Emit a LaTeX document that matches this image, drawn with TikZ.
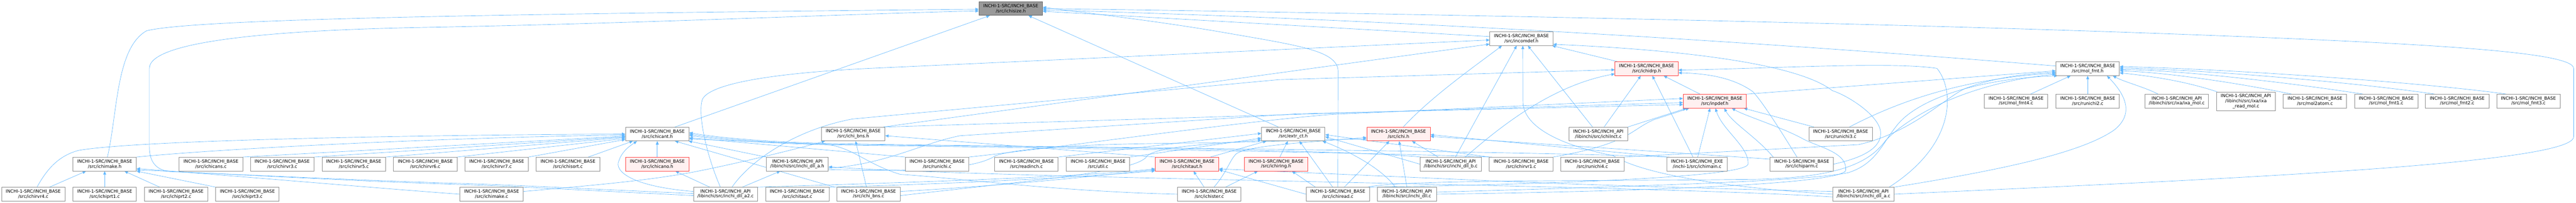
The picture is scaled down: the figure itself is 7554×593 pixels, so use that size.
\documentclass[tikz,border=0pt]{standalone}
\usepackage{fontspec}
\setmainfont{DejaVu Sans}
\usetikzlibrary{arrows.meta,calc}
\definecolor{edgeblue}{RGB}{99,184,255}
\definecolor{nodegray}{RGB}{140,140,140}
\definecolor{nodered}{RGB}{255,64,64}
\definecolor{nodepink}{RGB}{255,240,240}
\definecolor{rootfill}{RGB}{153,153,153}
\definecolor{rootdraw}{RGB}{102,102,102}
\newcommand{\nfnt}{\fontsize{13}{14.5}\selectfont}
\newcommand{\nbase}[1]{INCHI-1-SRC/INCHI\_BASE\\/src/#1}
\newcommand{\napi}[1]{INCHI-1-SRC/INCHI\_API\\/libinchi/src/#1}
\pgfdeclarelayer{bg}
\pgfsetlayers{bg,main}
\tikzset{
  nb/.style={draw=nodegray, line width=1.3pt, fill=white, minimum width=186pt, minimum height=40pt, inner sep=0pt, align=center, font=\nfnt},
  nred/.style={nb, draw=nodered, fill=nodepink},
  nroot/.style={nb, draw=rootdraw, fill=rootfill},
  e/.style={draw=edgeblue, line width=1pt, -{Triangle[length=10pt,width=8.5pt]}},
}
\begin{document}
\begin{tikzpicture}[x=1pt,y=-1pt]
\useasboundingbox (0,0) rectangle (7554,593);
% row 0
\node[nroot] (S) at (2964,25) {\nbase{ichisize.h}};
% row 1
\node[nb, minimum width=185pt] (CD) at (4461.5,113) {\nbase{incomdef.h}};
% row 2
\node[nred, minimum width=185pt] (DRP) at (4828.5,201) {\nbase{ichidrp.h}};
\node[nb] (MFH) at (6122,201) {\nbase{mol\_fmt.h}};
% row 3
\node[nred, minimum width=185pt] (INP) at (5028.5,296) {\nbase{inpdef.h}};
\node[nb] (MF4) at (5912,296) {\nbase{mol\_fmt4.c}};
\node[nb] (RU2) at (6122,296) {\nbase{runichi2.c}};
\node[nb] (IXM) at (6383,296) {\napi{ixa/ixa\_mol.c}};
\node[nb, minimum width=172pt, minimum height=55pt] (IXR) at (6586,296.5) {INCHI-1-SRC/INCHI\_API\\/libinchi/src/ixa/ixa\\\_read\_mol.c};
\node[nb] (M2A) at (6788.5,296) {\nbase{mol2atom.c}};
\node[nb] (MF1) at (6997.5,296) {\nbase{mol\_fmt1.c}};
\node[nb] (MF2) at (7205.5,296) {\nbase{mol\_fmt2.c}};
\node[nb] (MF3) at (7414.5,296) {\nbase{mol\_fmt3.c}};
% row 4
\node[nb] (CT) at (1927.5,392) {\nbase{ichicant.h}};
\node[nb] (BNSH) at (2502,392) {\nbase{ichi\_bns.h}};
\node[nb] (EXT) at (3792.5,392) {\nbase{extr\_ct.h}};
\node[nred] (ICHI) at (4101,392) {\nbase{ichi.h}};
\node[nb, minimum width=172pt] (LNCT) at (4687,392) {\napi{ichilnct.c}};
\node[nb] (RU3) at (5397.5,392) {\nbase{runichi3.c}};
% row 5
\node[nb] (MKH) at (307,480) {\nbase{ichimake.h}};
\node[nb] (CANS) at (618.5,480) {\nbase{ichicans.c}};
\node[nb] (RV3) at (827.5,480) {\nbase{ichirvr3.c}};
\node[nb] (RV5) at (1037.5,480) {\nbase{ichirvr5.c}};
\node[nb] (RV6) at (1247,480) {\nbase{ichirvr6.c}};
\node[nb] (RV7) at (1456.5,480) {\nbase{ichirvr7.c}};
\node[nb] (SORT) at (1665.5,480) {\nbase{ichisort.c}};
\node[nred] (CANO) at (1927.5,480) {\nbase{ichicano.h}};
\node[nb, minimum width=182pt] (DAH) at (2338,480) {\napi{inchi\_dll\_a.h}};
\node[nb] (RUN) at (2748,480) {\nbase{runichi.c}};
\node[nb] (RDI) at (3010,480) {\nbase{readinch.c}};
\node[nb] (UTIL) at (3220,480) {\nbase{util.c}};
\node[nred] (TAUH) at (3481,480) {\nbase{ichitaut.h}};
\node[nred] (RING) at (3742,480) {\nbase{ichiring.h}};
\node[nb, minimum width=180pt] (DLLB) at (4254,480) {\napi{inchi\_dll\_b.c}};
\node[nb] (RV1) at (4460.5,480) {\nbase{ichirvr1.c}};
\node[nb] (RU4) at (4669.5,480) {\nbase{runichi4.c}};
\node[nb, minimum width=177pt] (MAIN) at (4976.5,480) {INCHI-1-SRC/INCHI\_EXE\\/inchi-1/src/ichimain.c};
\node[nb] (PARM) at (5283.5,480) {\nbase{ichiparm.c}};
% row 6
\node[nb] (RV4) at (97.5,568) {\nbase{ichirvr4.c}};
\node[nb] (PRT1) at (307,568) {\nbase{ichiprt1.c}};
\node[nb] (PRT2) at (516.5,568) {\nbase{ichiprt2.c}};
\node[nb] (PRT3) at (725.5,568) {\nbase{ichiprt3.c}};
\node[nb] (MKC) at (1441.5,568) {\nbase{ichimake.c}};
\node[nb, minimum width=187pt] (DA2) at (2127.5,568) {\napi{inchi\_dll\_a2.c}};
\node[nb] (TAUC) at (2338,568) {\nbase{ichitaut.c}};
\node[nb] (BNSC) at (2547,568) {\nbase{ichi\_bns.c}};
\node[nb] (STER) at (3546,568) {\nbase{ichister.c}};
\node[nb] (READ) at (3923,568) {\nbase{ichiread.c}};
\node[nb, minimum width=173pt] (DLL) at (4125.5,568) {\napi{inchi\_dll.c}};
\node[nb, minimum width=179pt] (DLLA) at (5464.5,568) {\napi{inchi\_dll\_a.c}};

\begin{pgfonlayer}{bg}
% ---- into ichisize.h
\draw[e] ($(MKH.north)+(8,0)$) .. controls (345,330) and (340,140) .. (430,90) .. controls (560,58) and (1300,42) .. ($(S.west)+(0,2)$);
\draw[e] ($(DA2.west)+(0,-2)$) .. controls (1700,552) and (1500,540) .. (1300,535) .. controls (1000,525) and (700,510) .. (500,502) .. controls (455,498) and (438,470) .. (438,430) -- (438,200) .. controls (438,120) and (800,88) .. (1250,80) .. controls (1900,68) and (2500,40) .. ($(S.west)+(0,7)$);
\draw[e] ($(CT.north)+(52,0)$) -- ($(S.south west)+(32,0)$);
\draw[e] ($(EXT.north)+(-44,0)$) -- ($(S.south)+(52,0)$);
\draw[e] ($(CD.west)+(0,-6)$) -- ($(S.east)+(0,8)$);
\draw[e] ($(MFH.west)+(0,-8)$) .. controls (5000,110) and (4000,55) .. ($(S.east)+(0,4)$);
\draw[e] (DLLA.east) .. controls (6500,525) and (7547,480) .. (7547,400) -- (7547,200) .. controls (7547,150) and (7100,125) .. (6250,95) .. controls (5300,62) and (4000,38) .. (S.east);
\draw[e] (READ.north) -- (3924,210) .. controls (3924,150) and (3820,135) .. (3600,97) .. controls (3400,62) and (3200,40) .. ($(S.east)+(0,-4)$);
% ---- into incomdef.h
\draw[e] ($(DA2.north)+(-15,0)$) .. controls (2070,450) and (2045,330) .. (2060,290) .. controls (2085,240) and (2300,212) .. (2550,200) -- ($(CD.west)+(0,4)$);
\draw[e] ($(BNSH.north east)+(-5,0)$) -- ($(CD.west)+(0,16)$);
\draw[e] ($(ICHI.north)+(14,0)$) .. controls (4200,280) and (4330,190) .. ($(CD.south west)+(36,0)$);
\draw[e] ($(DLLB.north)+(14,0)$) -- ($(CD.south)+(-14,0)$);
\draw[e] ($(LNCT.north)+(-17,0)$) -- ($(CD.south)+(19,0)$);
\draw[e] ($(DRP.north west)+(9,0)$) -- ($(CD.south east)+(-3,0)$);
\draw[e] (DLLA.west) .. controls (5000,545) and (4800,500) .. (4730,455) .. controls (4600,430) and (4470,380) .. (4466,300) -- ($(CD.south)+(4,0)$);
\draw[e] (PARM.east) .. controls (5470,460) and (5515,430) .. (5515,390) .. controls (5515,340) and (5420,280) .. (5373,265) .. controls (5250,170) and (4800,140) .. ($(CD.south east)+(0,-4)$);
% ---- into ichidrp.h
\draw[e] ($(DA2.north)+(19,0)$) .. controls (2200,470) and (2330,380) .. (2500,348) -- (3750,233) -- ($(DRP.west)+(0,3)$);
\draw[e] ($(DLLB.north)+(43,0)$) .. controls (4400,370) and (4550,250) .. ($(DRP.west)+(0,15)$);
\draw[e] ($(LNCT.north)+(17,0)$) -- ($(DRP.south)+(-17,0)$);
\draw[e] ($(MAIN.north)+(-12,0)$) -- ($(DRP.south)+(17,0)$);
\draw[e] ($(INP.north)+(-43,0)$) -- ($(DRP.south)+(50,0)$);
\draw[e] ($(DLLA.north east)+(-15,0)$) .. controls (5740,420) and (5730,260) .. (5680,200) .. controls (5550,180) and (5200,200) .. ($(DRP.east)+(0,4)$);
\draw[e] ($(PARM.north)+(-14,0)$) .. controls (5220,380) and (5170,300) .. (5140,268) .. controls (5080,225) and (5000,215) .. ($(DRP.east)+(0,12)$);
% ---- into inpdef.h
\draw[e] (LNCT.north east) -- ($(INP.south west)+(10,0)$);
\draw[e] (RV1.north east) .. controls (4780,420) and (4780,380) .. (4850,350) -- ($(INP.south west)+(18,0)$);
\draw[e] ($(MAIN.north)+(2,0)$) -- ($(INP.south)+(-14,0)$);
\draw[e] ($(PARM.north west)+(10,0)$) .. controls (5150,400) and (5080,360) .. ($(INP.south)+(28,0)$);
\draw[e] ($(RU3.north west)+(15,0)$) -- ($(INP.south east)+(-8,0)$);
\draw[e] (DLL.east) .. controls (4800,560) and (5380,540) .. (5412,500) .. controls (5420,445) and (5330,430) .. (5285,405) .. controls (5220,370) and (5120,340) .. ($(INP.south)+(50,0)$);
\draw[e] (READ.north east) .. controls (4500,540) and (5120,520) .. (5126,480) .. controls (5130,430) and (5050,380) .. ($(INP.south)+(2,0)$);
\draw[e] (BNSH.north east) -- ($(INP.west)+(0,4)$);
\draw[e] ($(DAH.east)+(0,12)$) .. controls (2600,480) and (2700,420) .. (2815,397) -- (3800,333) -- ($(INP.west)+(0,10)$);
\draw[e] (RUN.north east) .. controls (3200,420) and (3600,360) .. (3900,335) -- ($(INP.west)+(0,-8)$);
% ---- into mol_fmt.h
\draw[e] (INP.north east) -- ($(MFH.west)+(0,6)$);
\draw[e] ($(RU3.north)+(26,0)$) .. controls (5560,300) and (5750,230) .. ($(MFH.west)+(0,13)$);
\draw[e] ($(MF4.north)+(42,0)$) -- ($(MFH.south)+(-50,0)$);
\draw[e] (RU2.north) -- (MFH.south);
\draw[e] ($(IXM.north west)+(39,0)$) .. controls (6290,255) and (6230,240) .. ($(MFH.south east)+(-20,0)$);
\draw[e] ($(IXR.north west)+(2,0)$) .. controls (6400,235) and (6300,222) .. ($(MFH.east)+(0,12)$);
\draw[e] ($(M2A.north)+(-68,0)$) .. controls (6550,240) and (6350,212) .. ($(MFH.east)+(0,6)$);
\draw[e] ($(MF1.north)+(-67,0)$) .. controls (6700,240) and (6400,206) .. ($(MFH.east)+(0,2)$);
\draw[e] ($(MF2.north)+(-65,0)$) .. controls (6900,240) and (6450,203) .. ($(MFH.east)+(0,-2)$);
\draw[e] ($(MF3.north)+(-64,0)$) .. controls (7100,240) and (6500,200) .. ($(MFH.east)+(0,-6)$);
\draw[e] (DLLA.north east) .. controls (5850,500) and (6100,450) .. (6200,380) .. controls (6250,340) and (6245,290) .. ($(MFH.south east)+(-37,0)$);
\draw[e] ($(DLL.east)+(0,-6)$) .. controls (4800,545) and (5300,530) .. (5420,505) .. controls (5500,480) and (5520,420) .. (5560,370) .. controls (5620,290) and (5800,230) .. ($(MFH.south west)+(5,0)$);
\draw[e] ($(READ.north east)+(-6,0)$) .. controls (4100,525) and (4700,530) .. (5100,525) .. controls (5380,525) and (5480,480) .. (5530,410) .. controls (5620,320) and (5800,240) .. ($(MFH.west)+(0,16)$);
\draw[e] (RU4.north east) -- (5450,423) .. controls (5600,390) and (5700,290) .. (5760,260) .. controls (5850,225) and (5950,215) .. ($(MFH.west)+(0,10)$);
% ---- into ichi.h
\draw[e] ($(READ.north)+(19,0)$) -- ($(ICHI.south)+(-27,0)$);
\draw[e] (DLL.north) -- ($(ICHI.south)+(2,0)$);
\draw[e] ($(DLLB.north west)+(54,0)$) -- ($(ICHI.south east)+(-54,0)$);
\draw[e] ($(STER.north)+(14,0)$) .. controls (3600,500) and (3605,470) .. (3625,450) .. controls (3660,425) and (3850,415) .. ($(ICHI.west)+(0,10)$);
\draw[e] (MAIN.north west) -- ($(ICHI.east)+(0,2)$);
\draw[e] ($(PARM.north west)+(0,6)$) -- ($(ICHI.east)+(0,7)$);
\draw[e] ($(DAH.east)+(0,16)$) .. controls (2800,505) and (2880,480) .. (2920,455) .. controls (3000,430) and (3200,420) .. (3550,418) -- ($(ICHI.west)+(0,14)$);
% ---- into extr_ct.h
\draw[e] ($(TAUH.north east)+(-25,0)$) -- ($(EXT.south west)+(15,0)$);
\draw[e] ($(RING.north)+(11,0)$) -- ($(EXT.south)+(-16,0)$);
\draw[e] ($(READ.north)+(-15,0)$) -- ($(EXT.south)+(18,0)$);
\draw[e] ($(DLL.north)+(-34,0)$) .. controls (4050,490) and (3950,440) .. ($(EXT.south east)+(-8,0)$);
\draw[e] (DLLB.west) -- ($(EXT.east)+(0,8)$);
\draw[e] (RV1.north west) -- ($(EXT.east)+(0,2)$);
\draw[e] (RDI.north east) -- ($(EXT.west)+(0,-2)$);
\draw[e] (UTIL.north east) -- ($(EXT.west)+(0,12)$);
\draw[e] ($(BNSC.east)+(0,4)$) .. controls (3100,520) and (3340,500) .. (3365,455) .. controls (3400,430) and (3500,425) .. ($(EXT.south west)+(0,-3)$);
% ---- into ichitaut.h
\draw[e] ($(STER.north)+(-15,0)$) -- ($(TAUH.south)+(19,0)$);
\draw[e] (TAUC.north east) .. controls (2900,535) and (3250,512) .. ($(TAUH.south west)+(0,-1)$);
\draw[e] ($(BNSC.east)+(0,-8)$) .. controls (3000,540) and (3300,505) .. ($(TAUH.south west)+(0,-4)$);
\draw[e] ($(DA2.north east)+(-3,0)$) .. controls (2800,530) and (3200,515) .. ($(TAUH.south west)+(0,-7)$);
\draw[e] (READ.west) -- ($(TAUH.south east)+(0,-4)$);
\draw[e] ($(DLLA.west)+(0,-8)$) .. controls (5000,552) and (4500,535) .. (4400,530) -- ($(TAUH.east)+(0,14)$);
% ---- into ichiring.h
\draw[e] ($(STER.north east)+(-46,0)$) -- ($(RING.south west)+(40,0)$);
\draw[e] ($(READ.north west)+(28,0)$) -- ($(RING.south east)+(-47,0)$);
% ---- into ichi_bns.h
\draw[e] ($(BNSC.north)+(-6,0)$) -- ($(BNSH.south)+(7,0)$);
\draw[e] ($(MKC.east)+(0,-8)$) .. controls (1700,545) and (1900,530) .. (2050,500) .. controls (2150,480) and (2300,445) .. ($(BNSH.south west)+(11,0)$);
\draw[e] (TAUH.north west) -- ($(BNSH.east)+(0,5)$);
% ---- into ichicant.h
\draw[e] (CANS.north east) -- ($(CT.west)+(0,6)$);
\draw[e] (RV3.north east) -- ($(CT.west)+(0,8)$);
\draw[e] (RV5.north east) -- ($(CT.west)+(0,10)$);
\draw[e] (RV6.north east) -- ($(CT.west)+(0,13)$);
\draw[e] (RV7.north east) -- ($(CT.west)+(0,16)$);
\draw[e] ($(SORT.north east)+(-34,0)$) -- ($(CT.south west)+(22,0)$);
\draw[e] (CANO.north) -- (CT.south);
\draw[e] ($(RV4.north)+(11,0)$) .. controls (140,490) and (175,455) .. (230,440) .. controls (400,410) and (1200,395) .. (CT.west);
\draw[e] (MKH.north east) .. controls (700,430) and (1400,400) .. ($(CT.west)+(0,3)$);
\draw[e] ($(DA2.west)+(0,-8)$) .. controls (1850,545) and (1800,500) .. (1815,470) .. controls (1825,440) and (1850,425) .. ($(CT.south west)+(34,0)$);
\draw[e] ($(DA2.north)+(-46,0)$) -- ($(CANO.south)+(53,0)$);
\draw[e] ($(BNSC.north west)+(-6,0)$) -- ($(CT.south east)+(-42,0)$);
\draw[e] (DAH.north west) -- ($(CT.south east)+(-2,0)$);
\draw[e] (RUN.north west) -- ($(CT.east)+(0,11)$);
\draw[e] ($(DLLB.north west)+(4,0)$) .. controls (3900,435) and (3000,430) .. (2450,422) .. controls (2250,418) and (2100,405) .. ($(CT.east)+(0,0)$);
\draw[e] ($(RV1.north west)+(8,0)$) .. controls (4000,445) and (3000,432) .. (2450,424) .. controls (2250,420) and (2100,408) .. ($(CT.east)+(0,4)$);
\draw[e] ($(MAIN.north west)+(8,0)$) .. controls (4400,440) and (3000,430) .. (2450,420) .. controls (2250,416) and (2100,402) .. ($(CT.east)+(0,-4)$);
\draw[e] (STER.west) .. controls (3100,560) and (2800,520) .. (2640,510) .. controls (2540,480) and (2500,430) .. (2420,422) .. controls (2250,416) and (2100,410) .. ($(CT.east)+(0,14)$);
% ---- into inchi_dll_a.h
\draw[e] ($(DA2.north east)+(-45,0)$) -- ($(DAH.south)+(-50,0)$);
\draw[e] ($(DLLA.west)+(0,8)$) .. controls (4800,540) and (3000,525) .. ($(DAH.east)+(0,8)$);
% ---- into ichimake.h
\draw[e] ($(RV4.north east)+(-46,0)$) -- ($(MKH.south west)+(39,0)$);
\draw[e] (PRT1.north) -- (MKH.south);
\draw[e] ($(PRT2.north)+(-48,0)$) -- ($(MKH.south)+(58,0)$);
\draw[e] ($(PRT3.north west)+(1,0)$) -- (MKH.south east);
\draw[e] (MKC.west) .. controls (1100,550) and (700,515) .. ($(MKH.east)+(0,13)$);
\draw[e] ($(DA2.west)+(0,4)$) .. controls (1700,556) and (1500,544) .. (1300,538) .. controls (1000,528) and (600,505) .. ($(MKH.east)+(0,17)$);
\end{pgfonlayer}
\end{tikzpicture}
\end{document}
